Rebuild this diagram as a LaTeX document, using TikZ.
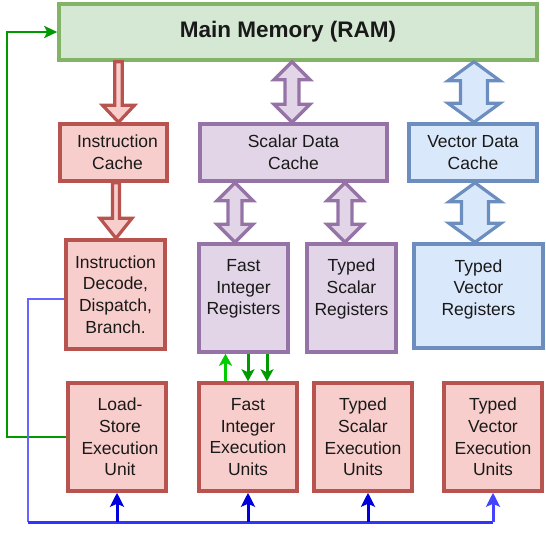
\documentclass[tikz,border=0pt]{standalone}
\usepackage{fontspec}
\setmainfont{Liberation Sans}
\usetikzlibrary{arrows.meta,calc}
\definecolor{gfill}{HTML}{D5E8D4}\definecolor{gdraw}{HTML}{82B366}
\definecolor{rfill}{HTML}{F8CECC}\definecolor{rdraw}{HTML}{B85450}
\definecolor{pfill}{HTML}{E1D5E7}\definecolor{pdraw}{HTML}{9673A6}
\definecolor{bfill}{HTML}{DAE8FC}\definecolor{bdraw}{HTML}{6C8EBF}
\definecolor{gline}{HTML}{009900}\definecolor{glight}{HTML}{00CC00}
\definecolor{blight}{HTML}{6666FF}\definecolor{bmid}{HTML}{3333FF}
\definecolor{bdark}{HTML}{0000DD}\definecolor{bvec}{HTML}{4444FF}
\newcommand\blockS[7]{\path[#7] let \p1=(#2), \p2=(#3) in
  ({#1pt-#4pt},\y1) -- ({#1pt+#4pt},\y1) -- ({#1pt+#4pt},\y2+#6pt) -- ({#1pt+#5pt},\y2+#6pt)
  -- (#1pt,\y2) -- ({#1pt-#5pt},\y2+#6pt) -- ({#1pt-#4pt},\y2+#6pt) -- cycle;}
\newcommand\blockD[7]{\path[#7] let \p1=(#2), \p2=(#3) in
  (#1pt,\y1) -- ({#1pt+#5pt},\y1-#6pt) -- ({#1pt+#4pt},\y1-#6pt) -- ({#1pt+#4pt},\y2+#6pt)
  -- ({#1pt+#5pt},\y2+#6pt) -- (#1pt,\y2) -- ({#1pt-#5pt},\y2+#6pt) -- ({#1pt-#4pt},\y2+#6pt)
  -- ({#1pt-#4pt},\y1-#6pt) -- ({#1pt-#5pt},\y1-#6pt) -- cycle;}
\begin{document}
\begin{tikzpicture}[x=1pt,y=-1pt,
  box/.style={draw, line width=3.5pt, inner sep=0pt, align=center,
    font=\fontsize{17.5}{21.7}\selectfont, text=black!90},
  gbox/.style={box, fill=gfill, draw=gdraw},
  rbox/.style={box, fill=rfill, draw=rdraw},
  pbox/.style={box, fill=pfill, draw=pdraw},
  bbox/.style={box, fill=bfill, draw=bdraw},
  rarrow/.style={fill=rfill, draw=rdraw, line width=3.2pt},
  parrow/.style={fill=pfill, draw=pdraw, line width=3.2pt},
  barrow/.style={fill=bfill, draw=bdraw, line width=3.2pt},
  gconn/.style={draw=gline, line width=2.8pt, -{Stealth[length=13pt,width=12pt,inset=3pt]}},
  smallg/.style={line width=3pt, -{Stealth[length=12pt,width=13pt,inset=3pt]}},
  bluearr/.style={line width=3pt, -{Stealth[length=14pt,width=14pt,inset=3pt]}}]
\useasboundingbox (0,0) rectangle (546,533);

\node[gbox, minimum width=478pt, minimum height=56pt,
  font=\fontsize{22.5}{27}\selectfont\bfseries] (mem) at (298,32) {Main Memory (RAM)\hspace*{20pt}};
\node[rbox, minimum width=107pt, minimum height=57pt] (icache) at (113.5,152.5) {\hspace*{8pt}Instruction\\\hspace*{8pt}Cache};
\node[pbox, minimum width=187pt, minimum height=57pt] (scache) at (293.5,152.5) {Scalar Data\\Cache};
\node[bbox, minimum width=128pt, minimum height=57pt] (vcache) at (473,152.5) {Vector Data\\Cache};

\node[rbox, minimum width=99pt, minimum height=109pt] (decode) at (115.5,294.5) {Instruction\\Decode,\\Dispatch,\\Branch.};
\node[pbox, minimum width=89pt, minimum height=108pt] (fireg) at (243.5,298) {Fast\\Integer\\Registers\\[0pt]\mbox{}};
\node[pbox, minimum width=89pt, minimum height=108pt] (tsreg) at (351.5,298) {Typed\\Scalar\\Registers\\[0pt]\mbox{}};
\node[bbox, minimum width=129pt, minimum height=104pt] (tvreg) at (478.5,296) {Typed\\Vector\\Registers\\[-5pt]\mbox{}};

\node[rbox, minimum width=98pt, minimum height=108pt] (lsu) at (117,437) {\hspace*{6pt}Load-\\\hspace*{6pt}Store\\\hspace*{6pt}Execution\\\hspace*{6pt}Unit};
\node[rbox, minimum width=98pt, minimum height=108pt] (fiex) at (248,437) {Fast\\Integer\\Execution\\Units};
\node[rbox, minimum width=98pt, minimum height=108pt] (tsex) at (363,437) {Typed\\Scalar\\Execution\\Units};
\node[rbox, minimum width=98pt, minimum height=108pt] (tvex) at (493,437) {Typed\\Vector\\Execution\\Units};

% block arrows
\blockS{118.5}{mem.south}{icache.north}{3.8}{16}{17}{rarrow}
\blockS{116}{icache.south}{decode.north}{3.5}{16}{20}{rarrow}
\blockD{292}{mem.south}{scache.north}{7}{18}{18}{parrow}
\blockD{474}{mem.south}{vcache.north}{13.5}{26}{19}{barrow}
\blockD{235}{scache.south}{fireg.north}{7}{18}{18}{parrow}
\blockD{345}{scache.south}{tsreg.north}{7}{18}{18}{parrow}
\blockD{475}{vcache.south}{tvreg.north}{13.5}{26}{19}{barrow}

% green connector load-store -> memory
\coordinate (gl) at (7,437);
\draw[gconn] (lsu.west) -- (gl) |- (mem.west);

% green arrows between fast integer registers and execution units
\draw[smallg, glight] ([xshift=-22.5pt]fiex.north) -- ([xshift=-22.5pt]fiex.north |- fireg.south);
\draw[smallg, gline] ([xshift=4.5pt]fireg.south) -- ([xshift=4.5pt]fireg.south |- fiex.north);
\draw[smallg, gline] ([xshift=23.5pt]fireg.south) -- ([xshift=23.5pt]fireg.south |- fiex.north);

% blue bus from decode
\coordinate (bA) at (28,299);
\coordinate (bB) at (28,522);
\coordinate (bE) at (493,522);
\draw[blight, line width=2.4pt] (decode.west |- bA) -- (bA) -- (bB);
\draw[bmid, line width=3pt] (bB) -- (bE);
\draw[bluearr, bdark] (lsu.south |- bB) -- (lsu.south);
\draw[bluearr, bdark] (fiex.south |- bB) -- (fiex.south);
\draw[bluearr, bdark] ([xshift=5pt]tsex.south |- bB) -- ([xshift=5pt]tsex.south);
\draw[bluearr, bvec] (bE) -- (tvex.south);
\end{tikzpicture}
\end{document}
